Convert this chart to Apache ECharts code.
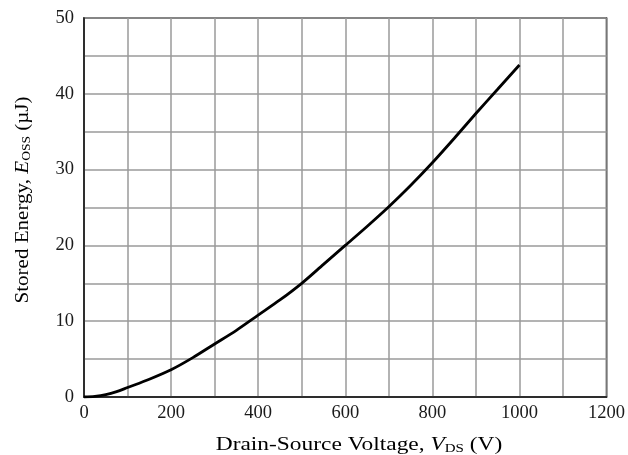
<!DOCTYPE html>
<html>
<head>
<meta charset="utf-8">
<script src="https://cdn.jsdelivr.net/npm/echarts@6/dist/echarts.min.js"></script>
<style>
  html, body { margin: 0; padding: 0; background: #fff; }
  #chart { width: 628px; height: 455px; }
</style>
</head>
<body>
<div id="chart"></div>
<script>
// Drain-source voltage (V) and the matching stored output energy (µJ)
const voltage = [0, 25, 50, 75, 100, 150, 200, 250, 300, 350, 400, 450, 500, 550, 600, 650, 700, 750, 800, 850, 900, 950, 1000];
const energy  = [0, 0.08, 0.3, 0.7, 1.25, 2.35, 3.6, 5.2, 7.0, 8.8, 10.8, 12.8, 15.0, 17.5, 20.0, 22.5, 25.1, 27.9, 30.9, 34.1, 37.4, 40.6, 43.8];

const xLabelValues = [0, 200, 400, 600, 800, 1000, 1200];
const yLabelValues = [0, 10, 20, 30, 40, 50];

const serif = '"Liberation Serif", "Times New Roman", serif';
const textColor = '#1a1a1a';

// rich-text styles for the axis titles (normal, italic symbol, subscript)
const titleRich = {
  n: { fontFamily: serif, fontSize: 19.5, color: textColor, lineHeight: 24, verticalAlign: 'bottom' },
  i: { fontFamily: serif, fontSize: 19.5, fontStyle: 'italic', color: textColor, lineHeight: 24, verticalAlign: 'bottom' },
  s: { fontFamily: serif, fontSize: 12.5, color: textColor, lineHeight: 8, verticalAlign: 'bottom' }
};

const chart = echarts.init(document.getElementById('chart'), null, { renderer: 'canvas' });

chart.setOption({
  backgroundColor: '#fff',
  animation: false,
  grid: {
    left: 84, top: 18, right: 20, bottom: 58,
    show: true, borderColor: '#111', borderWidth: 1.5, backgroundColor: 'transparent'
  },
  xAxis: {
    type: 'value',
    min: 0, max: 1200, interval: 100,
    axisLine: { show: true, lineStyle: { color: '#111', width: 1.5 } },
    axisTick: { show: false },
    axisLabel: {
      margin: 7,
      fontFamily: serif, fontSize: 18.5, color: textColor,
      formatter: v => (xLabelValues.includes(v) ? String(v) : '')
    },
    splitLine: { show: true, lineStyle: { color: '#9a9a9a', width: 1.5 } }
  },
  yAxis: {
    type: 'value',
    min: 0, max: 50, interval: 5,
    axisLine: { show: true, lineStyle: { color: '#111', width: 1.5 } },
    axisTick: { show: false },
    axisLabel: {
      margin: 10,
      fontFamily: serif, fontSize: 18.5, color: textColor,
      formatter: v => (yLabelValues.includes(v) ? String(v) : '')
    },
    splitLine: { show: true, lineStyle: { color: '#9a9a9a', width: 1.5 } }
  },
  graphic: [
    {
      type: 'text',
      x: 359, y: 443,
      scaleX: 1.2,
      silent: true,
      style: {
        text: '{n|Drain-Source Voltage, }{i|V}{s|DS}{n| (V)}',
        rich: titleRich,
        align: 'center',
        verticalAlign: 'middle'
      }
    },
    {
      type: 'text',
      x: 21, y: 200,
      rotation: Math.PI / 2,
      scaleX: 1.08,
      silent: true,
      style: {
        text: '{n|Stored Energy, }{i|E}{s|OSS}{n| (µJ)}',
        rich: titleRich,
        align: 'center',
        verticalAlign: 'middle'
      }
    }
  ],
  series: [{
    type: 'line',
    data: voltage.map((v, i) => [v, energy[i]]),
    smooth: 0.3,
    showSymbol: false,
    lineStyle: { color: '#000', width: 2.8 },
    z: 5
  }]
});
</script>
</body>
</html>
